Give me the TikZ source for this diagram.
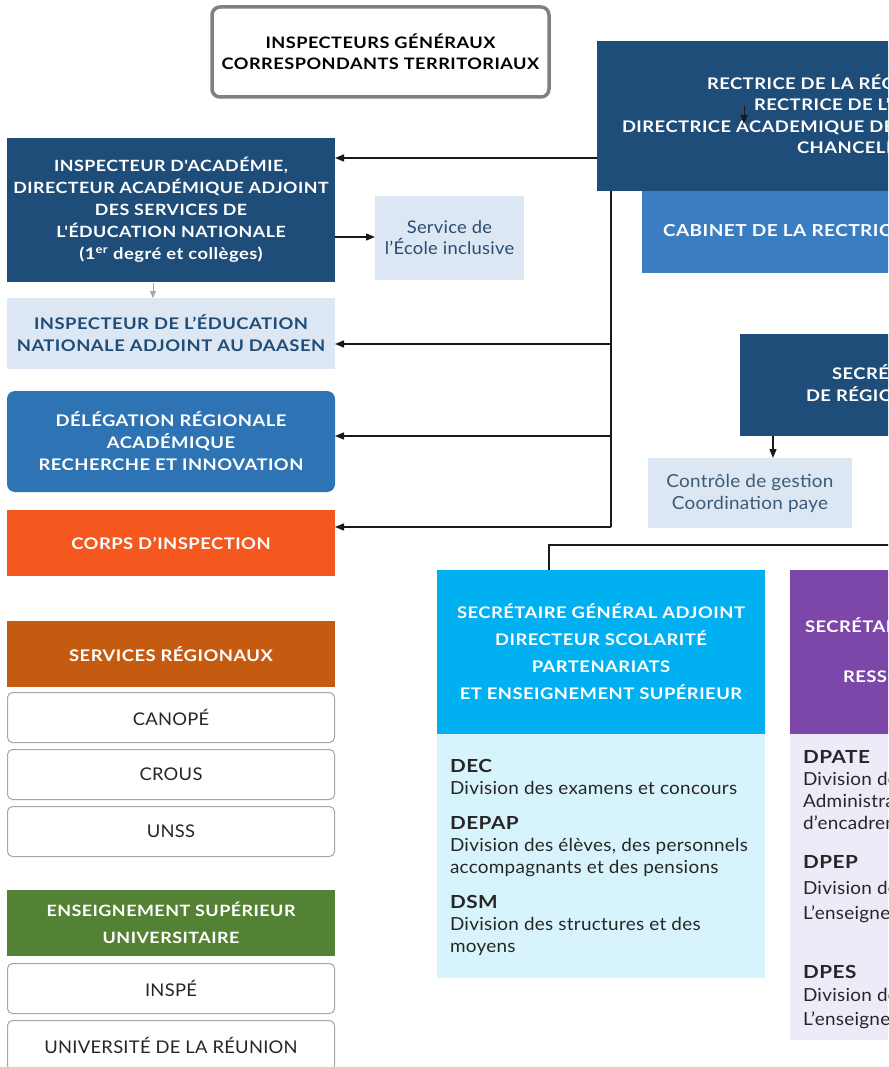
\documentclass[tikz,border=0pt]{standalone}
\usepackage{fontspec}
\setmainfont{Lato}
\newfontfamily\hf{Lato}[FakeStretch=1.15, LetterSpace=3]
\newfontfamily\rf{Lato}[FakeStretch=1.05, LetterSpace=1.5]
\usetikzlibrary{arrows.meta}
\definecolor{dblue}{HTML}{1F4D79}
\definecolor{cabblue}{HTML}{3A7DC0}
\definecolor{drari}{HTML}{2E74B5}
\definecolor{lblue}{HTML}{DCE7F3}
\definecolor{stxt}{HTML}{2B4C6F}
\definecolor{ctxt}{HTML}{3D5A78}
\definecolor{corps}{HTML}{F5581F}
\definecolor{servreg}{HTML}{C55A11}
\definecolor{esu}{HTML}{548235}
\definecolor{sga}{HTML}{00B0F0}
\definecolor{lcyan}{HTML}{D7F4FD}
\definecolor{purp}{HTML}{7C47A8}
\definecolor{lpurp}{HTML}{EEEBF9}
\definecolor{bordgray}{HTML}{808080}
\newcommand{\fsz}[2]{\fontsize{#1pt}{#2pt}\selectfont}
\begin{document}
\begin{tikzpicture}[x=1pt,y=-1pt,
  fbox/.style={anchor=north west, inner sep=0pt, outer sep=0pt, align=center},
  hd/.style={font=\hf\fsz{16}{22}\bfseries, text=white},
  capline/.style={anchor=west, inner sep=0pt, outer sep=0pt, text height=11.5pt, text depth=0pt, font=\hf\fsz{16}{22}\bfseries, text=white},
  wbox/.style={fbox, draw=black!35, line width=1pt, fill=white, rounded corners=5pt, minimum width=327pt, minimum height=50pt, font=\rf\fsz{17.5}{20}, text=black!85},
  conn/.style={draw=black!90, line width=1.4pt, -{Triangle[length=9pt,width=7pt]}},
  plain/.style={draw=black!90, line width=1.4pt},
  listtxt/.style={anchor=north west, inner sep=0pt, outer sep=0pt, align=left, font=\rf\fsz{18}{22}, text=black!85}
]
\useasboundingbox (0,0) rectangle (888,1067);
\begin{scope}
\clip (0,0) rectangle (888,1067);
\fill[white] (0,0) rectangle (888,1067);

% top box
\node[draw=bordgray, line width=3.5pt, rounded corners=8pt, minimum width=337pt, minimum height=90pt, inner sep=0pt, align=center, font=\hf\fsz{15.8}{21}\bfseries, text=black] (insp) at (380.5,52) {INSPECTEURS GÉNÉRAUX\\CORRESPONDANTS TERRITORIAUX};

% rectrice
\node[fbox, fill=dblue, minimum width=600pt, minimum height=150pt] (rect) at (597,41) {};
\node[capline] (r1) at (707,84) {RECTRICE DE LA RÉGION ACADÉMIQUE};
\node[capline] (r2) at (754,105) {RECTRICE DE L’ACADÉMIE};
\node[capline] (r3) at (622,127) {DIRECTRICE ACADEMIQUE DES SERVICES DE L’ÉDUCATION NATIONALE};
\node[capline] (r4) at (797,148) {CHANCELIÈRE DES UNIVERSITÉS};
\coordinate (ia1) at (744,106);
\coordinate (ia2) at (744,124);
\draw[conn, line width=1pt] (ia1) -- (ia2);

% cabinet
\node[fbox, fill=cabblue, minimum width=600pt, minimum height=82pt] (cab) at (642,191) {};
\node[capline, font=\hf\fsz{16.5}{22}\bfseries] (cabt) at (663,231) {CABINET DE LA RECTRICE};

% secretaire general
\node[fbox, fill=dblue, minimum width=600pt, minimum height=102pt] (sg) at (740,334) {};
\node[capline] (sg1) at (832,374) {SECRÉTAIRE GÉNÉRALE};
\node[capline] (sg2) at (806,396) {DE RÉGION ACADÉMIQUE};

% controle
\node[fbox, fill=lblue, minimum width=204pt, minimum height=70pt, font=\rf\fsz{18}{22}, text=ctxt] (ctrl) at (648,458) {Contrôle de gestion\\Coordination paye};

% left column
\node[fbox, fill=dblue, minimum width=328pt, minimum height=144pt, hd, font=\hf\fsz{15.5}{22}\bfseries] (daasen) at (7,138) {INSPECTEUR D'ACADÉMIE,\\DIRECTEUR ACADÉMIQUE ADJOINT\\DES SERVICES DE\\L'ÉDUCATION NATIONALE\\{\fsz{16}{22}(1\textsuperscript{er} degré et collèges)}};
\node[fbox, fill=lblue, minimum width=149pt, minimum height=84pt, font=\rf\fsz{17.5}{21}, text=stxt] (ecole) at (375,196) {Service de\\l’École inclusive};
\node[fbox, fill=lblue, minimum width=328pt, minimum height=71pt, font=\hf\fsz{16}{22}\bfseries, text=dblue] (ien) at (7,298) {INSPECTEUR DE L’ÉDUCATION\\NATIONALE ADJOINT AU DAASEN};
\node[fbox, fill=drari, rounded corners=8pt, minimum width=328pt, minimum height=101pt, hd] (drari) at (7,391) {DÉLÉGATION RÉGIONALE\\ACADÉMIQUE\\RECHERCHE ET INNOVATION};
\node[fbox, fill=corps, minimum width=328pt, minimum height=66pt, hd] (corpsn) at (7,510) {CORPS D’INSPECTION};

\node[fbox, fill=servreg, minimum width=328pt, minimum height=66pt, hd] (serv) at (7,621) {SERVICES RÉGIONAUX};
\node[wbox] (canope) at (7.5,692.5) {CANOPÉ};
\node[wbox] (crous) at (7.5,749.5) {CROUS};
\node[wbox] (unss) at (7.5,806.5) {UNSS};
\node[fbox, fill=esu, minimum width=328pt, minimum height=66pt, font=\hf\fsz{15.6}{27}\bfseries, text=white] (esun) at (7,890) {ENSEIGNEMENT SUPÉRIEUR\\UNIVERSITAIRE};
\node[wbox] (inspe) at (7.5,963.5) {INSPÉ};
\node[wbox] (univ) at (7.5,1020.5) {UNIVERSITÉ DE LA RÉUNION};

% SGA
\node[fbox, fill=sga, minimum width=328pt, minimum height=164pt, font=\hf\fsz{16}{27}\bfseries, text=white] (sgan) at (437,570) {SECRÉTAIRE GÉNÉRAL ADJOINT\\DIRECTEUR SCOLARITÉ\\PARTENARIATS\\ET ENSEIGNEMENT SUPÉRIEUR};
\node[fbox, fill=lcyan, minimum width=328pt, minimum height=244pt] (sgal) at (437,734) {};
\node[listtxt] (sgalt) at (450,759.5) {{\hf\bfseries DEC}\\Division des examens et concours\\[13pt]{\hf\bfseries DEPAP}\\Division des élèves, des personnels\\accompagnants et des pensions\\[13pt]{\hf\bfseries DSM}\\Division des structures et des\\moyens};

% purple
\node[fbox, fill=purp, minimum width=600pt, minimum height=164pt] (sgr) at (790,570) {};
\node[capline] (sgr1) at (805,627) {SECRÉTAIRE GÉNÉRAL ADJOINT};
\node[capline] (sgr2) at (843,677) {RESSOURCES HUMAINES};
\node[fbox, fill=lpurp, minimum width=600pt, minimum height=306pt] (sgrl) at (790,734) {};
\node[listtxt] (sgrlt) at (803,750.5) {{\hf\bfseries DPATE}\\Division des personnels administratifs,\\Administratifs, techniques et\\d’encadrement\\[17pt]{\hf\bfseries DPEP}\\[4pt]Division des personnels de\\[3pt]L’enseignement privé\\[37pt]{\hf\bfseries DPES}\\[1pt]Division des personnels de\\[2pt]L’enseignement scolaire};

% connectors
\coordinate (a1) at (597,158);
\draw[conn] (a1) -- (daasen.east |- a1);
\coordinate (t0) at (611,191);
\coordinate (t1) at (611,344);
\coordinate (t2) at (611,436);
\coordinate (t3) at (611,527);
\draw[plain] (t0) -- (t3);
\draw[conn] (t1) -- (ien.east |- t1);
\draw[conn] (t2) -- (drari.east |- t2);
\draw[conn] (t3) -- (corpsn.east |- t3);
\coordinate (e1) at (335,237);
\draw[conn] (e1) -- (ecole.west |- e1);
\coordinate (g1) at (153,283);
\draw[draw=black!35, line width=1pt, -{Triangle[length=7pt,width=6pt]}] (g1) -- (g1 |- ien.north);
\coordinate (s1) at (773,436);
\draw[conn] (s1) -- (s1 |- ctrl.north);
\coordinate (h1) at (549,545);
\coordinate (h2) at (900,545);
\draw[plain] (h2) -- (h1) -- (h1 |- sgan.north);
\end{scope}
\end{tikzpicture}
\end{document}
